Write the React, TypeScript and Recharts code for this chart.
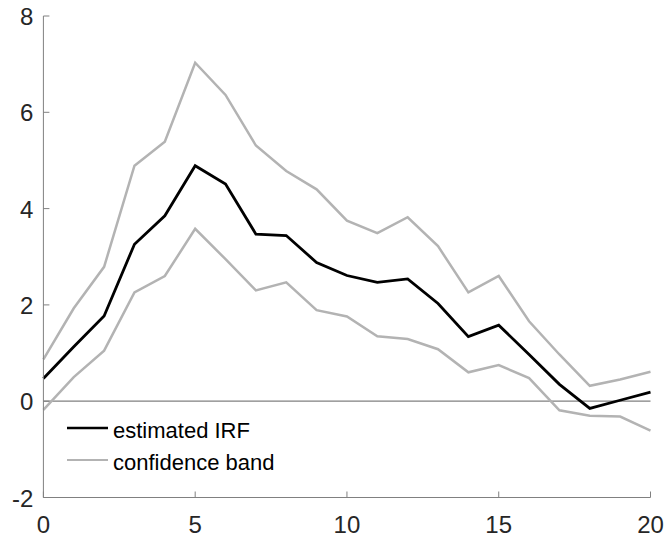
import React from 'react';
import { LineChart, Line, XAxis, YAxis, ReferenceLine, Legend } from 'recharts';

const horizons = [0, 1, 2, 3, 4, 5, 6, 7, 8, 9, 10, 11, 12, 13, 14, 15, 16, 17, 18, 19, 20];
const irf = [0.47, 1.13, 1.77, 3.26, 3.85, 4.89, 4.51, 3.47, 3.44, 2.88, 2.61, 2.47, 2.54, 2.03, 1.34, 1.58, 0.97, 0.35, -0.15, 0.02, 0.19];
const upper = [0.87, 1.93, 2.79, 4.89, 5.39, 7.03, 6.36, 5.31, 4.78, 4.40, 3.75, 3.49, 3.82, 3.22, 2.26, 2.60, 1.66, 0.97, 0.32, 0.45, 0.61];
const lower = [-0.18, 0.50, 1.05, 2.26, 2.60, 3.58, 2.95, 2.30, 2.47, 1.89, 1.76, 1.35, 1.29, 1.08, 0.60, 0.75, 0.48, -0.19, -0.30, -0.32, -0.61];
const xTicks = [0, 5, 10, 15, 20];
const yTicks = [-2, 0, 2, 4, 6, 8];

const data = horizons.map((h, i) => ({ h, irf: irf[i], upper: upper[i], lower: lower[i] }));

const FONT = '"Liberation Sans", Arial, Helvetica, sans-serif';
const AXIS = '#808080';
const TEXT = '#262626';
const BAND = '#b3b3b3';

const YTick = (props: any) => {
  const { x, y, payload } = props;
  const axisX = x + 10;
  return (
    <g>
      <line x1={axisX} x2={axisX + 6} y1={y} y2={y} stroke={AXIS} strokeWidth={1} />
      <text x={x} y={y + 9} textAnchor="end" fontSize={24} fontFamily={FONT} fill={TEXT}>
        {payload.value}
      </text>
    </g>
  );
};

const XTick = (props: any) => {
  const { x, y, payload } = props;
  return (
    <g>
      <line x1={x} x2={x} y1={y} y2={y - 6} stroke={AXIS} strokeWidth={1} />
      <text x={x} y={y + 35.5} textAnchor="middle" fontSize={24} fontFamily={FONT} fill={TEXT}>
        {payload.value}
      </text>
    </g>
  );
};

const LegendContent = () => (
  <svg width={220} height={70} style={{ display: 'block' }}>
    <line x1={7} x2={48} y1={18} y2={18} stroke="#000" strokeWidth={2.5} />
    <text x={53} y={28} fontSize={22} fontFamily={FONT} fill="#000">estimated IRF</text>
    <line x1={7} x2={48} y1={50} y2={50} stroke={BAND} strokeWidth={2} />
    <text x={53} y={60} fontSize={22} fontFamily={FONT} fill="#000">confidence band</text>
  </svg>
);

export default function App() {
  return (
    <div style={{ position: 'absolute', left: 0, top: 0, background: '#fff' }}>
      <LineChart
        width={666}
        height={535}
        data={data}
        margin={{ top: 16, right: 15.5, bottom: 0, left: 0 }}
      >
        <XAxis
          dataKey="h"
          type="number"
          domain={[0, 20]}
          ticks={xTicks}
          height={37.5}
          stroke={AXIS}
          tickLine={false}
          tickSize={0}
          tickMargin={0}
          tick={<XTick />}
          interval={0}
        />
        <YAxis
          type="number"
          domain={[-2, 8]}
          ticks={yTicks}
          width={43.4}
          stroke={AXIS}
          tickLine={false}
          tickSize={0}
          tickMargin={10}
          tick={<YTick />}
          interval={0}
        />
        <ReferenceLine y={0} stroke={AXIS} strokeWidth={1.3} />
        <Line dataKey="upper" name="confidence band" stroke={BAND} strokeWidth={2.5} dot={false} isAnimationActive={false} />
        <Line dataKey="lower" name="lower" stroke={BAND} strokeWidth={2.5} dot={false} legendType="none" isAnimationActive={false} />
        <Line dataKey="irf" name="estimated IRF" stroke="#000" strokeWidth={2.8} dot={false} isAnimationActive={false} />
        <Legend
          layout="vertical"
          align="center"
          verticalAlign="middle"
          content={<LegendContent />}
          wrapperStyle={{ left: 60, top: 410, width: 220, height: 70 }}
        />
      </LineChart>
    </div>
  );
}
